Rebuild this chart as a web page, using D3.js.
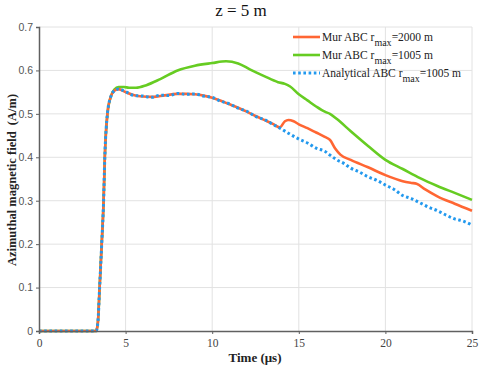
<!DOCTYPE html>
<html><head><meta charset="utf-8">
<script src="https://cdn.jsdelivr.net/npm/d3@7"></script>
<style>body{margin:0;background:#fff}svg{display:block}.serif{font-family:"Liberation Serif","Times New Roman",serif}</style>
</head><body>
<svg id="c" width="480" height="369"></svg>
<script>
const xTicks = [0, 5, 10, 15, 20, 25];
const yTicks = [0, 0.1, 0.2, 0.3, 0.4, 0.5, 0.6, 0.7];

const murT = [0,3.3,3.4,3.5,3.62,3.73,3.8,3.95,4.15,4.35,4.6,5,5.5,6,6.5,7,8,8.5,9,9.5,10,10.5,11,11.5,12,12.5,13,13.5,13.9,14.2,14.4,14.7,15,15.5,16,16.5,16.8,17.1,17.4,18,19,20,21,21.5,21.8,22.3,23,24,25];
const mur2000 = [0,0,0.02,0.1,0.2,0.3,0.4,0.5,0.54,0.553,0.557,0.55,0.543,0.54,0.539,0.541,0.546,0.546,0.545,0.542,0.537,0.53,0.522,0.514,0.505,0.495,0.486,0.477,0.469,0.483,0.486,0.483,0.476,0.467,0.457,0.447,0.44,0.42,0.406,0.394,0.377,0.359,0.345,0.341,0.339,0.326,0.31,0.293,0.277];

const greenT = [0,3.3,3.4,3.5,3.62,3.73,3.8,3.95,4.15,4.35,4.6,4.9,5.2,5.6,6.2,7,8,9,10,10.8,11.5,12.2,13,13.8,14.2,14.5,15,15.5,16,16.5,16.8,17.2,18,19,20,21,22,23,24,25];
const mur1005 = [0,0,0.02,0.1,0.2,0.3,0.4,0.5,0.54,0.556,0.562,0.562,0.56,0.56,0.566,0.58,0.6,0.611,0.617,0.621,0.616,0.602,0.587,0.573,0.569,0.563,0.545,0.531,0.517,0.505,0.5,0.488,0.46,0.426,0.394,0.373,0.352,0.334,0.318,0.302];

const anaT = [0,3.3,3.4,3.5,3.62,3.73,3.8,3.95,4.15,4.35,4.6,5,5.5,6,6.5,7,7.5,8,8.5,9,9.5,10,10.5,11,11.5,12,12.5,13,13.5,14,14.5,15,15.5,16,16.5,16.8,17.2,17.6,18,18.5,19,19.5,20,20.5,21,21.5,22,22.5,23,23.5,24,24.5,25];
const ana1005 = [0,0,0.02,0.1,0.2,0.3,0.4,0.5,0.54,0.553,0.557,0.551,0.542,0.541,0.538,0.543,0.542,0.547,0.545,0.546,0.541,0.538,0.529,0.523,0.513,0.506,0.494,0.487,0.476,0.465,0.453,0.442,0.433,0.421,0.414,0.405,0.394,0.386,0.375,0.366,0.355,0.347,0.336,0.326,0.312,0.305,0.295,0.285,0.277,0.267,0.258,0.253,0.244];

const series = [
  {name:"Mur ABC r", sub:"max", tail:"=2000 m", t:murT, v:mur2000, color:"#FF6633", dash:null, w:2.6},
  {name:"Mur ABC r", sub:"max", tail:"=1005 m", t:greenT, v:mur1005, color:"#66CC22", dash:null, w:2.6},
  {name:"Analytical ABC r", sub:"max", tail:"=1005 m", t:anaT, v:ana1005, color:"#2299EE", dash:"2.6,2.6", w:3}
];

const svg = d3.select("#c");
const L=39, R=472, T=27, B=331;
const x = d3.scaleLinear().domain([0,25]).range([L,R]);
const y = d3.scaleLinear().domain([0,0.7]).range([B,T]);

// grid
svg.append("g").selectAll("line").data(xTicks.slice(1)).join("line")
  .attr("x1",d=>x(d)).attr("x2",d=>x(d)).attr("y1",T).attr("y2",B)
  .attr("stroke","#e2e2e2").attr("stroke-width",1);
svg.append("g").selectAll("line").data(yTicks.slice(1)).join("line")
  .attr("x1",L).attr("x2",R).attr("y1",d=>y(d)).attr("y2",d=>y(d))
  .attr("stroke","#e2e2e2").attr("stroke-width",1);

// series (green first, then orange, then blue)
const line = d3.line().x(d=>x(d[0])).y(d=>y(d[1])).curve(d3.curveMonotoneX);
[series[1], series[0], series[2]].forEach(s=>{
  svg.append("path").datum(s.t.map((t,i)=>[t,s.v[i]]))
    .attr("d",line).attr("fill","none").attr("stroke",s.color)
    .attr("stroke-width",s.w).attr("stroke-dasharray",s.dash)
    .attr("stroke-linejoin","round");
});

// axes
const xa = svg.append("g").attr("transform",`translate(0,${B})`)
  .call(d3.axisBottom(x).tickValues(xTicks).tickSize(3).tickPadding(5).tickFormat(d3.format("d")));
const ya = svg.append("g").attr("transform",`translate(${L},0)`)
  .call(d3.axisLeft(y).tickValues(yTicks).tickSize(3).tickPadding(3).tickFormat(d=>d===0?"0":d3.format(".1f")(d)));
[xa,ya].forEach(a=>{
  a.attr("font-family",null);
  a.select(".domain").attr("stroke","#606060").attr("stroke-width",1.5);
  a.selectAll(".tick line").attr("stroke","#606060");
});
xa.selectAll("text").attr("class","serif").attr("font-size",11.5).attr("fill","#444");
ya.selectAll("text").style("font-family","'Liberation Sans', Arial, sans-serif").attr("font-size",10.5).attr("fill","#555");

// title
svg.append("text").attr("class","serif").attr("x",241).attr("y",16).attr("text-anchor","middle")
  .attr("font-size",17).attr("fill","#111").text("z = 5 m");

// axis titles
svg.append("text").attr("class","serif").attr("x",255).attr("y",362).attr("text-anchor","middle")
  .attr("font-weight","bold").attr("font-size",13).attr("fill","#222")
  .text("Time (μs)");
svg.append("text").attr("class","serif").attr("transform","translate(16,180) rotate(-90)").attr("text-anchor","middle")
  .attr("font-weight","bold").attr("font-size",12.5).attr("fill","#222")
  .style("white-space","pre")
  .text("Azimuthal magnetic field  (A/m)");

// legend
const lg = svg.append("g");
series.forEach((s,i)=>{
  const yy = 37 + i*18;
  lg.append("line").attr("x1",293).attr("x2",320).attr("y1",yy).attr("y2",yy)
    .attr("stroke",s.color).attr("stroke-width",s.dash?3:2.6).attr("stroke-dasharray",s.dash);
  const t = lg.append("text").attr("class","serif").attr("x",322).attr("y",yy+4)
    .attr("font-size",11.5).attr("fill","#222");
  t.append("tspan").text(s.name);
  t.append("tspan").attr("dy",5).attr("font-size",10).text(s.sub);
  t.append("tspan").attr("dy",-5).text(s.tail);
});
</script>
</body></html>
